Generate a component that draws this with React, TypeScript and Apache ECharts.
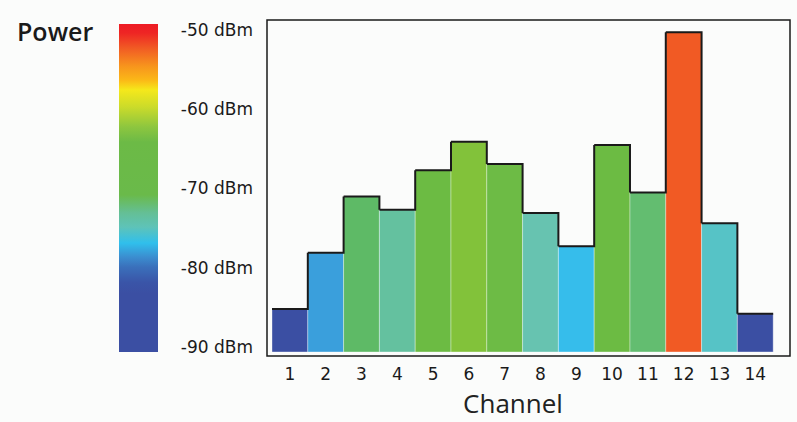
import React, { useEffect, useRef } from "react";
import * as echarts from "echarts";

const channels = [1, 2, 3, 4, 5, 6, 7, 8, 9, 10, 11, 12, 13, 14];
const powerDbm = [-85.2, -78.1, -71.0, -72.7, -67.7, -64.1, -66.9, -73.1, -77.3, -64.5, -70.5, -50.3, -74.4, -85.8];
const yTicks = [-90, -80, -70, -60, -50];
const barColors = [
  "#3b4fa3", "#3a9fdc", "#5eba66", "#64c19f", "#6cbb43", "#82c23a", "#6dbb45",
  "#67c3b0", "#36bdeb", "#6cbb43", "#63bd70", "#f15a24", "#56c3c6", "#3b4fa3",
];
const BASE = -90.63;
const Y_MIN = -91.14;
const Y_MAX = -48.74;
const X_MIN = 0.36;
const X_MAX = 14.97;

const gradientStops = [
  [0, "#ed1c24"], [0.027, "#ee2524"], [0.073, "#f15a24"], [0.128, "#f7941d"],
  [0.171, "#fbb817"], [0.201, "#f5e81b"], [0.253, "#cbdb2a"], [0.314, "#8dc63f"],
  [0.36, "#6cba46"], [0.521, "#6aba4a"], [0.576, "#64bf96"], [0.619, "#5ec3b8"],
  [0.668, "#30bfec"], [0.71, "#3b8ed0"], [0.741, "#3a70bb"], [0.787, "#3a55a8"],
  [0.82, "#3b4fa3"], [1, "#3b4fa3"],
];

export default function App() {
  const ref = useRef<HTMLDivElement>(null);
  useEffect(() => {
    if (!ref.current) return;
    const chart = echarts.init(ref.current, null, { renderer: "svg" });
    const data = channels.map((c, i) => [c, powerDbm[i]]);
    chart.setOption({
      animation: false,
      backgroundColor: "#fbfcfb",
      grid: {
        left: 267, top: 20, width: 523, height: 336,
        show: true, borderColor: "#1a1a1a", borderWidth: 1.5, backgroundColor: "#fbfcfb",
      },
      xAxis: {
        type: "value", min: X_MIN, max: X_MAX,
        axisLine: { show: false }, axisTick: { show: false }, splitLine: { show: false },
        axisLabel: {
          customValues: channels, margin: 9,
          fontFamily: "DejaVu Sans", fontSize: 17, color: "#1a1a1a",
        },
      },
      yAxis: {
        type: "value", min: Y_MIN, max: Y_MAX,
        axisLine: { show: false }, axisTick: { show: false }, splitLine: { show: false },
        axisLabel: {
          customValues: yTicks, margin: 14, formatter: "{value} dBm",
          fontFamily: "DejaVu Sans", fontSize: 17, color: "#1a1a1a",
        },
      },
      graphic: [
        {
          type: "rect", left: 119, top: 24, shape: { width: 39, height: 328 },
          style: {
            fill: new echarts.graphic.LinearGradient(0, 0, 0, 1,
              gradientStops.map(([o, c]) => ({ offset: o as number, color: c as string }))),
          },
        },
        {
          type: "text", x: 17, y: 31,
          style: {
            text: "Power", fontFamily: "Open Sans", fontWeight: 600, fontSize: 25, lineHeight: 26,
            fill: "#1a1a1a", verticalAlign: "middle", align: "left",
          },
        },
        {
          type: "text", x: 513, y: 403,
          style: {
            text: "Channel", fontFamily: "Open Sans", fontSize: 26, lineHeight: 26,
            fill: "#222", verticalAlign: "middle", align: "center",
          },
        },
      ],
      series: [
        {
          type: "custom", z: 2, data,
          renderItem: (params: any, api: any) => {
            const c = api.value(0), v = api.value(1);
            const tl = api.coord([c - 0.5, v]);
            const br = api.coord([c + 0.5, BASE]);
            return {
              type: "rect",
              shape: { x: tl[0], y: tl[1], width: br[0] - tl[0], height: br[1] - tl[1] },
              style: { fill: barColors[params.dataIndex], stroke: "rgba(255,255,255,0.35)", lineWidth: 1 },
            };
          },
        },
        {
          type: "custom", z: 3, data,
          renderItem: (params: any, api: any) => {
            const i = params.dataIndex;
            const c = api.value(0), v = api.value(1);
            const l = api.coord([c - 0.5, v]);
            const r = api.coord([c + 0.5, v]);
            const pts = [l, r];
            if (i + 1 < powerDbm.length) {
              const n = api.coord([c + 0.5, powerDbm[i + 1]]);
              pts.push(n);
            }
            return {
              type: "polyline",
              shape: { points: pts },
              style: { stroke: "#1a1a1a", lineWidth: 2, fill: "none" },
            };
          },
        },
      ],
    });
    return () => chart.dispose();
  }, []);
  return (
    <div style={{ position: "absolute", left: 0, top: 0, width: 797, height: 422, background: "#fbfcfb" }}>
      <div ref={ref} style={{ width: 797, height: 422 }} />
    </div>
  );
}
